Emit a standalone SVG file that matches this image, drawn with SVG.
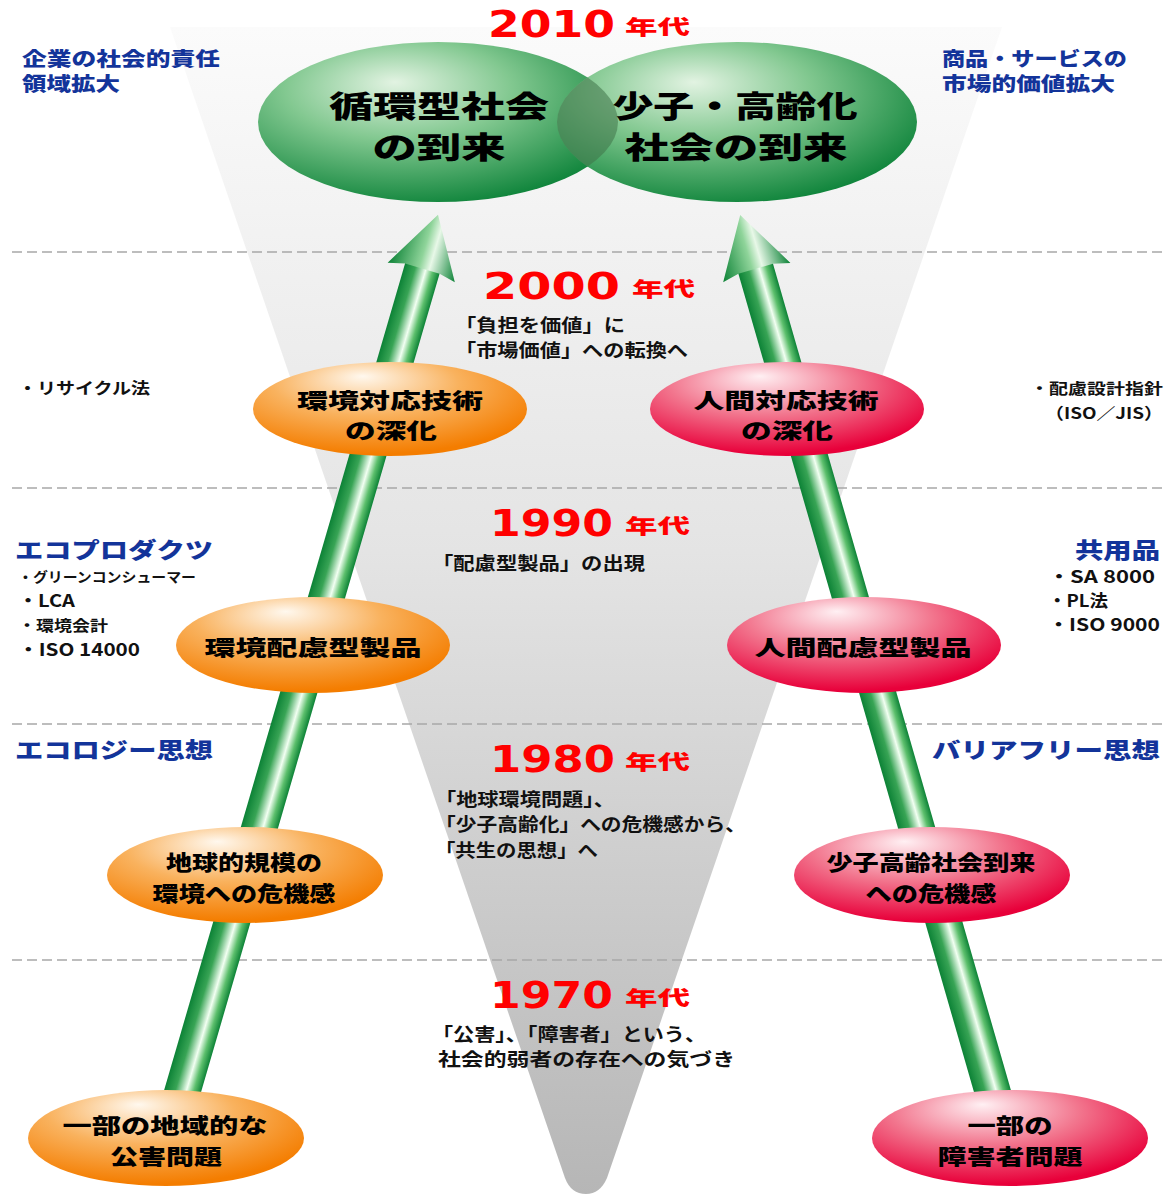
<svg xmlns="http://www.w3.org/2000/svg" width="1165" height="1196" viewBox="0 0 1165 1196">
<defs>
<linearGradient id="funnel" x1="0" y1="0" x2="0" y2="1">
<stop offset="0" stop-color="#fbfbfb"/>
<stop offset="0.45" stop-color="#e4e4e4"/>
<stop offset="1" stop-color="#b6b6b6"/>
</linearGradient>
<radialGradient id="gBig" cx="0.4" cy="0.35" r="0.7" fx="0.38" fy="0.25">
<stop offset="0" stop-color="#e2f3e2"/>
<stop offset="0.45" stop-color="#82c890"/>
<stop offset="1" stop-color="#0b8238"/>
</radialGradient>
<radialGradient id="gOr" cx="0.42" cy="0.3" r="0.68" fx="0.4" fy="0.15">
<stop offset="0" stop-color="#fff8ee"/>
<stop offset="0.5" stop-color="#f9b25e"/>
<stop offset="1" stop-color="#f47d00"/>
</radialGradient>
<radialGradient id="gPk" cx="0.42" cy="0.3" r="0.68" fx="0.4" fy="0.15">
<stop offset="0" stop-color="#fff0f3"/>
<stop offset="0.5" stop-color="#f2768e"/>
<stop offset="1" stop-color="#e8003a"/>
</radialGradient>
<linearGradient id="shaft" x1="0" y1="0" x2="1" y2="0">
<stop offset="0" stop-color="#0c8236"/>
<stop offset="0.3" stop-color="#38a455"/>
<stop offset="0.6" stop-color="#f2fff2"/>
<stop offset="0.8" stop-color="#5cbf6c"/>
<stop offset="1" stop-color="#0c8236"/>
</linearGradient>
<linearGradient id="head" x1="0" y1="0" x2="1" y2="0">
<stop offset="0" stop-color="#0c8236"/>
<stop offset="0.45" stop-color="#8fd49a"/>
<stop offset="0.6" stop-color="#e8f8e8"/>
<stop offset="1" stop-color="#0c8236"/>
</linearGradient>
<clipPath id="clipL"><ellipse cx="438" cy="122" rx="180" ry="80"/></clipPath>
<style>
.dash{stroke:#a8a8a8;stroke-width:1.5;stroke-dasharray:10 5;fill:none}
.dec{font-family:"DejaVu Sans",sans-serif;font-weight:bold;fill:#ff0000}
.nen{font-family:"Noto Sans CJK JP",sans-serif;font-weight:900;fill:#ff0000}
.blue{font-family:"Noto Sans CJK JP",sans-serif;font-weight:900;fill:#13349a}
.sm{font-family:"Noto Sans CJK JP",sans-serif;font-weight:bold;fill:#111}
.ctr{font-family:"Noto Sans CJK JP",sans-serif;font-weight:bold;fill:#111;font-size:18px}
.el{font-family:"Noto Sans CJK JP",sans-serif;font-weight:900;fill:#000;font-size:21px;text-anchor:middle}
.big{font-family:"Noto Sans CJK JP",sans-serif;font-weight:900;fill:#000;font-size:30px;text-anchor:middle}
</style>
</defs>
<rect width="1165" height="1196" fill="#ffffff"/>
<path id="funnelShape" d="M170,27 L1002,27 L607,1178 Q600,1194 586,1194 Q571,1194 565,1178 Z" fill="url(#funnel)"/>
<g id="dividers">
<line class="dash" x1="12" y1="252" x2="1165" y2="252"/>
<line class="dash" x1="12" y1="488" x2="1165" y2="488"/>
<line class="dash" x1="12" y1="724" x2="1165" y2="724"/>
<line class="dash" x1="12" y1="960" x2="1165" y2="960"/>
</g>
<g id="connectors">
<g id="arrowLeft" transform="translate(180,1100) rotate(16.25)">
<rect x="-18" y="-872" width="36" height="872" fill="url(#shaft)"/>
<polygon points="-18,-866 -35,-862 0,-922 35,-862 18,-866" fill="url(#head)"/>
</g>
<g id="arrowRight" transform="translate(995,1100) rotate(-16.06)">
<rect x="-18" y="-871" width="36" height="871" fill="url(#shaft)"/>
<polygon points="-18,-865 -35,-861 0,-921 35,-861 18,-865" fill="url(#head)"/>
</g>
</g>
<g id="decades">
<text class="dec" x="488" y="37" font-size="38" textLength="127" lengthAdjust="spacingAndGlyphs">2010</text>
<text class="nen" x="625" y="35" font-size="20" textLength="65" lengthAdjust="spacingAndGlyphs">年代</text>
<text class="dec" x="483" y="299" font-size="38" textLength="137" lengthAdjust="spacingAndGlyphs">2000</text>
<text class="nen" x="632" y="297" font-size="20" textLength="63" lengthAdjust="spacingAndGlyphs">年代</text>
<text class="dec" x="490" y="536" font-size="38" textLength="123" lengthAdjust="spacingAndGlyphs">1990</text>
<text class="nen" x="625" y="534" font-size="20" textLength="65" lengthAdjust="spacingAndGlyphs">年代</text>
<text class="dec" x="490" y="772" font-size="38" textLength="125" lengthAdjust="spacingAndGlyphs">1980</text>
<text class="nen" x="625" y="770" font-size="20" textLength="65" lengthAdjust="spacingAndGlyphs">年代</text>
<text class="dec" x="490" y="1008" font-size="38" textLength="123" lengthAdjust="spacingAndGlyphs">1970</text>
<text class="nen" x="625" y="1006" font-size="20" textLength="65" lengthAdjust="spacingAndGlyphs">年代</text>
</g>
<g id="node-junkan">
<ellipse cx="438" cy="122" rx="180" ry="80" fill="url(#gBig)"/>
</g>
<g id="node-shoushi">
<ellipse cx="737" cy="122" rx="180" ry="80" fill="url(#gBig)"/>
<ellipse cx="737" cy="122" rx="180" ry="80" fill="#3f7248" opacity="0.55" clip-path="url(#clipL)"/>
</g>
<g id="bigText">
<text class="big" x="439" y="117" textLength="220" lengthAdjust="spacingAndGlyphs">循環型社会</text>
<text class="big" x="439" y="158" textLength="133" lengthAdjust="spacingAndGlyphs">の到来</text>
<text class="big" x="735" y="117" textLength="245" lengthAdjust="spacingAndGlyphs">少子・高齢化</text>
<text class="big" x="736" y="158" textLength="223" lengthAdjust="spacingAndGlyphs">社会の到来</text>
</g>
<g id="node-env-tech">
<ellipse cx="390" cy="409" rx="137" ry="47" fill="url(#gOr)"/>
<text class="el" x="390" y="408" textLength="186" lengthAdjust="spacingAndGlyphs">環境対応技術</text>
<text class="el" x="391" y="438" textLength="92" lengthAdjust="spacingAndGlyphs">の深化</text>
</g>
<g id="node-human-tech">
<ellipse cx="787" cy="409" rx="137" ry="47" fill="url(#gPk)"/>
<text class="el" x="786" y="408" textLength="185" lengthAdjust="spacingAndGlyphs">人間対応技術</text>
<text class="el" x="787" y="438" textLength="92" lengthAdjust="spacingAndGlyphs">の深化</text>
</g>
<g id="node-env-product">
<ellipse cx="313" cy="645" rx="137" ry="48" fill="url(#gOr)"/>
<text class="el" x="313" y="655" font-size="22" textLength="217" lengthAdjust="spacingAndGlyphs">環境配慮型製品</text>
</g>
<g id="node-human-product">
<ellipse cx="864" cy="645" rx="137" ry="48" fill="url(#gPk)"/>
<text class="el" x="863" y="655" font-size="22" textLength="217" lengthAdjust="spacingAndGlyphs">人間配慮型製品</text>
</g>
<g id="node-global">
<ellipse cx="245" cy="875" rx="138" ry="48" fill="url(#gOr)"/>
<text class="el" x="244" y="870" textLength="156" lengthAdjust="spacingAndGlyphs">地球的規模の</text>
<text class="el" x="244" y="901" textLength="183" lengthAdjust="spacingAndGlyphs">環境への危機感</text>
</g>
<g id="node-aging">
<ellipse cx="932" cy="875" rx="138" ry="48" fill="url(#gPk)"/>
<text class="el" x="931" y="870" textLength="209" lengthAdjust="spacingAndGlyphs">少子高齢社会到来</text>
<text class="el" x="931" y="901" textLength="131" lengthAdjust="spacingAndGlyphs">への危機感</text>
</g>
<g id="node-pollution">
<ellipse cx="166" cy="1138" rx="138" ry="48" fill="url(#gOr)"/>
<text class="el" x="165" y="1133" textLength="205" lengthAdjust="spacingAndGlyphs">一部の地域的な</text>
<text class="el" x="166" y="1164" textLength="112" lengthAdjust="spacingAndGlyphs">公害問題</text>
</g>
<g id="node-disability">
<ellipse cx="1010" cy="1138" rx="138" ry="48" fill="url(#gPk)"/>
<text class="el" x="1010" y="1133" textLength="85" lengthAdjust="spacingAndGlyphs">一部の</text>
<text class="el" x="1010" y="1164" textLength="145" lengthAdjust="spacingAndGlyphs">障害者問題</text>
</g>
<g id="sideLabels">
<text class="blue" x="22" y="66" font-size="19" textLength="198" lengthAdjust="spacingAndGlyphs">企業の社会的責任</text>
<text class="blue" x="22" y="91" font-size="19" textLength="98" lengthAdjust="spacingAndGlyphs">領域拡大</text>
<text class="blue" x="942" y="66" font-size="19" textLength="185" lengthAdjust="spacingAndGlyphs">商品・サービスの</text>
<text class="blue" x="942" y="91" font-size="19" textLength="173" lengthAdjust="spacingAndGlyphs">市場的価値拡大</text>
<text class="blue" x="15" y="558" font-size="22" textLength="198" lengthAdjust="spacingAndGlyphs">エコプロダクツ</text>
<text class="blue" x="15" y="758" font-size="22" textLength="198" lengthAdjust="spacingAndGlyphs">エコロジー思想</text>
<text class="blue" x="1075" y="558" font-size="22" textLength="85" lengthAdjust="spacingAndGlyphs">共用品</text>
<text class="blue" x="932" y="758" font-size="22" textLength="228" lengthAdjust="spacingAndGlyphs">バリアフリー思想</text>
<text class="sm" x="18" y="394" font-size="16" textLength="132" lengthAdjust="spacingAndGlyphs">・リサイクル法</text>
<text class="sm" x="1030" y="394" font-size="15" textLength="133" lengthAdjust="spacingAndGlyphs">・配慮設計指針</text>
<text class="sm" x="1045" y="419" font-size="16" textLength="118" lengthAdjust="spacingAndGlyphs">（ISO／JIS）</text>
<text class="sm" x="18" y="582" font-size="14" textLength="178" lengthAdjust="spacingAndGlyphs">・グリーンコンシューマー</text>
<text class="sm" x="18" y="607" font-size="17" textLength="57" lengthAdjust="spacingAndGlyphs">・LCA</text>
<text class="sm" x="18" y="631" font-size="15" textLength="90" lengthAdjust="spacingAndGlyphs">・環境会計</text>
<text class="sm" x="18" y="656" font-size="17" textLength="122" lengthAdjust="spacingAndGlyphs">・ISO 14000</text>
<text class="sm" x="1048" y="583" font-size="17" textLength="107" lengthAdjust="spacingAndGlyphs">・SA 8000</text>
<text class="sm" x="1048" y="607" font-size="17" textLength="60" lengthAdjust="spacingAndGlyphs">・PL法</text>
<text class="sm" x="1048" y="631" font-size="17" textLength="112" lengthAdjust="spacingAndGlyphs">・ISO 9000</text>
</g>
<g id="decadeNotes">
<text class="ctr" x="455" y="332" textLength="170" lengthAdjust="spacingAndGlyphs">「負担を価値」に</text>
<text class="ctr" x="455" y="357" textLength="233" lengthAdjust="spacingAndGlyphs">「市場価値」への転換へ</text>
<text class="ctr" x="432" y="570" textLength="213" lengthAdjust="spacingAndGlyphs">「配慮型製品」の出現</text>
<text class="ctr" x="435" y="806" textLength="180" lengthAdjust="spacingAndGlyphs">「地球環境問題」、</text>
<text class="ctr" x="435" y="831" textLength="311" lengthAdjust="spacingAndGlyphs">「少子高齢化」への危機感から、</text>
<text class="ctr" x="435" y="857" textLength="163" lengthAdjust="spacingAndGlyphs">「共生の思想」へ</text>
<text class="ctr" x="432" y="1041" textLength="274" lengthAdjust="spacingAndGlyphs">「公害」、「障害者」という、</text>
<text class="ctr" x="438" y="1066" textLength="297" lengthAdjust="spacingAndGlyphs">社会的弱者の存在への気づき</text>
</g>
</svg>
